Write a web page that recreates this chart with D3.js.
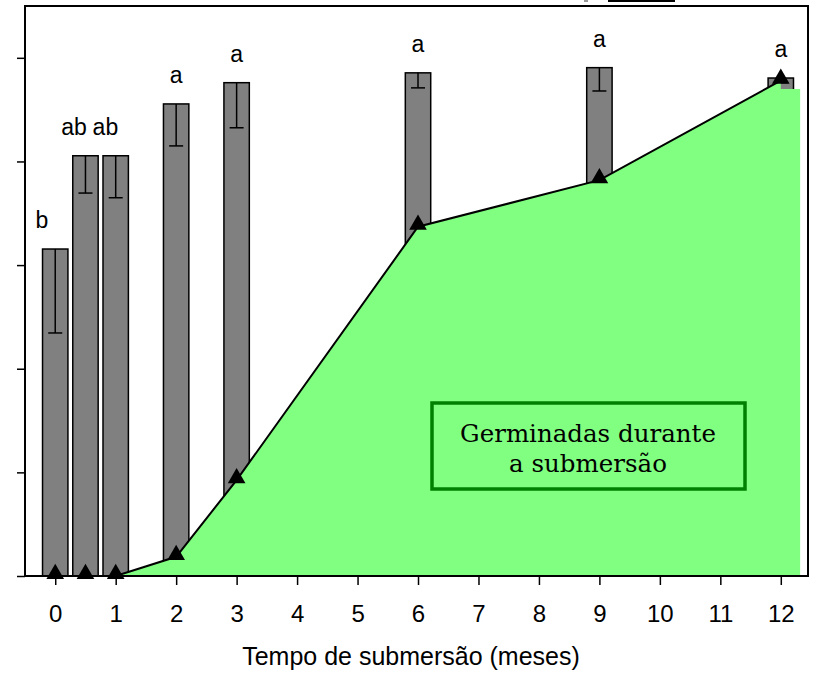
<!DOCTYPE html>
<html>
<head>
<meta charset="utf-8">
<script src="https://cdn.jsdelivr.net/npm/d3@7"></script>
<style>
  body { margin: 0; background: #fff; }
  svg { display: block; }
  .axis text { font-family: "Liberation Sans", Arial, sans-serif; font-size: 24px; fill: #000; }
  .axis line { stroke: #000; stroke-width: 1.5; }
</style>
</head>
<body>
<div id="chart"></div>
<script>
// months of submersion
var months = [0, 0.5, 1, 2, 3, 6, 9, 12];
// total germination (bars) and its error (drawn downward)
var germTotal = [63.1, 81.1, 81.1, 91.1, 95.2, 97.1, 98.1, 96.1];
var germErr = [16.2, 7.2, 8.1, 8.1, 8.7, 2.9, 4.5, 0.9];
// letters from the means test
var letters = ["b", "ab", "ab", "a", "a", "a", "a", "a"];
var letterX = [-0.22, 0.31, 0.83, 2, 3, 6, 9, 12];
// germinated during submersion (line + triangles)
var germDuring = [0, 0, 0, 3.7, 18.5, 67.4, 76.4, 95.6];
// green fill under the line (ends with a short flat step past 12)
var fillX = [1, 2, 3, 6, 9, 12, 12, 12.32];
var fillY = [0, 3.7, 18.5, 67.4, 76.4, 95.6, 94, 94];

var xTicks = d3.range(0, 13);
var yTicks = [0, 20, 40, 60, 80, 100];

var width = 813, height = 676;
var m = {left: 25, right: 808, top: 6, bottom: 576};

var svg = d3.select("#chart").append("svg")
    .attr("width", width)
    .attr("height", height);

var x = d3.scaleLinear().domain([-0.5, 12.45]).range([m.left, m.right]);
var y = d3.scaleLinear().domain([0, 110]).range([m.bottom, m.top]);

var bw = x(0.42) - x(0);

// bars
var bars = svg.append("g");
bars.selectAll("rect")
  .data(months)
  .join("rect")
    .attr("x", d => x(d) - bw / 2)
    .attr("y", (d, i) => y(germTotal[i]))
    .attr("width", bw)
    .attr("height", (d, i) => y(0) - y(germTotal[i]))
    .attr("fill", "#808080")
    .attr("stroke", "#000")
    .attr("stroke-width", 1.5);

// error bars (down only)
var err = svg.append("g").attr("stroke", "#000").attr("stroke-width", 1.5);
months.forEach(function(mo, i) {
  var cx = x(mo);
  var y1 = y(germTotal[i]), y2 = y(germTotal[i] - germErr[i]);
  err.append("line").attr("x1", cx).attr("x2", cx).attr("y1", y1).attr("y2", y2);
  err.append("line").attr("x1", cx - 7).attr("x2", cx + 7).attr("y1", y2).attr("y2", y2);
});

// green area
var area = d3.area()
    .x(d => x(d[0]))
    .y0(y(0))
    .y1(d => y(d[1]));
svg.append("path")
    .datum(fillX.map((d, i) => [d, fillY[i]]))
    .attr("d", area)
    .attr("fill", "#80ff80");

// letters
svg.append("g")
  .selectAll("text")
  .data(letters)
  .join("text")
    .attr("x", (d, i) => x(letterX[i]))
    .attr("y", (d, i) => y(germTotal[i]) - 21)
    .attr("text-anchor", "middle")
    .attr("font-family", "Liberation Sans, Arial, sans-serif")
    .attr("font-size", 23)
    .text(d => d);

// line + triangles
var line = d3.line()
    .x((d, i) => x(months[i]))
    .y(d => y(d));
svg.append("path")
    .datum(germDuring)
    .attr("d", line)
    .attr("fill", "none")
    .attr("stroke", "#000")
    .attr("stroke-width", 2);

svg.append("g")
  .selectAll("path")
  .data(germDuring)
  .join("path")
    .attr("d", d3.symbol().type(d3.symbolTriangle).size(135))
    .attr("transform", (d, i) => `translate(${x(months[i])},${y(d) - 2})`)
    .attr("fill", "#000");

// legend box
var lg = svg.append("g");
lg.append("rect")
    .attr("x", 432).attr("y", 403)
    .attr("width", 313).attr("height", 86)
    .attr("fill", "#80ff80")
    .attr("stroke", "#008000")
    .attr("stroke-width", 3.5);
lg.append("text")
    .attr("x", 588).attr("y", 442)
    .attr("text-anchor", "middle")
    .attr("font-family", "DejaVu Serif, serif")
    .attr("font-size", 24.5)
    .text("Germinadas durante");
lg.append("text")
    .attr("x", 588).attr("y", 472)
    .attr("text-anchor", "middle")
    .attr("font-family", "DejaVu Serif, serif")
    .attr("font-size", 24.5)
    .text("a submersão");

// axes
var xAxis = svg.append("g")
    .attr("class", "axis")
    .attr("transform", `translate(0,${m.bottom})`)
    .call(d3.axisBottom(x).tickValues(xTicks).tickSize(9).tickPadding(20).tickFormat(d3.format("d")));
xAxis.select(".domain").remove();

var yAxis = svg.append("g")
    .attr("class", "axis")
    .attr("transform", `translate(${m.left},0)`)
    .call(d3.axisLeft(y).tickValues(yTicks).tickSize(8).tickFormat(""));
yAxis.select(".domain").remove();

// frame
svg.append("rect")
    .attr("x", m.left).attr("y", m.top)
    .attr("width", m.right - m.left).attr("height", m.bottom - m.top)
    .attr("fill", "none")
    .attr("stroke", "#000")
    .attr("stroke-width", 2);

// clipped legend fragment at the top
svg.append("rect").attr("x", 608).attr("y", 0).attr("width", 67).attr("height", 2).attr("fill", "#000");
svg.append("rect").attr("x", 584).attr("y", 0).attr("width", 4).attr("height", 2).attr("fill", "#999");

// x axis title
svg.append("text")
    .attr("x", 411).attr("y", 665)
    .attr("text-anchor", "middle")
    .attr("font-family", "Liberation Sans, Arial, sans-serif")
    .attr("font-size", 25)
    .text("Tempo de submersão (meses)");
</script>
</body>
</html>
